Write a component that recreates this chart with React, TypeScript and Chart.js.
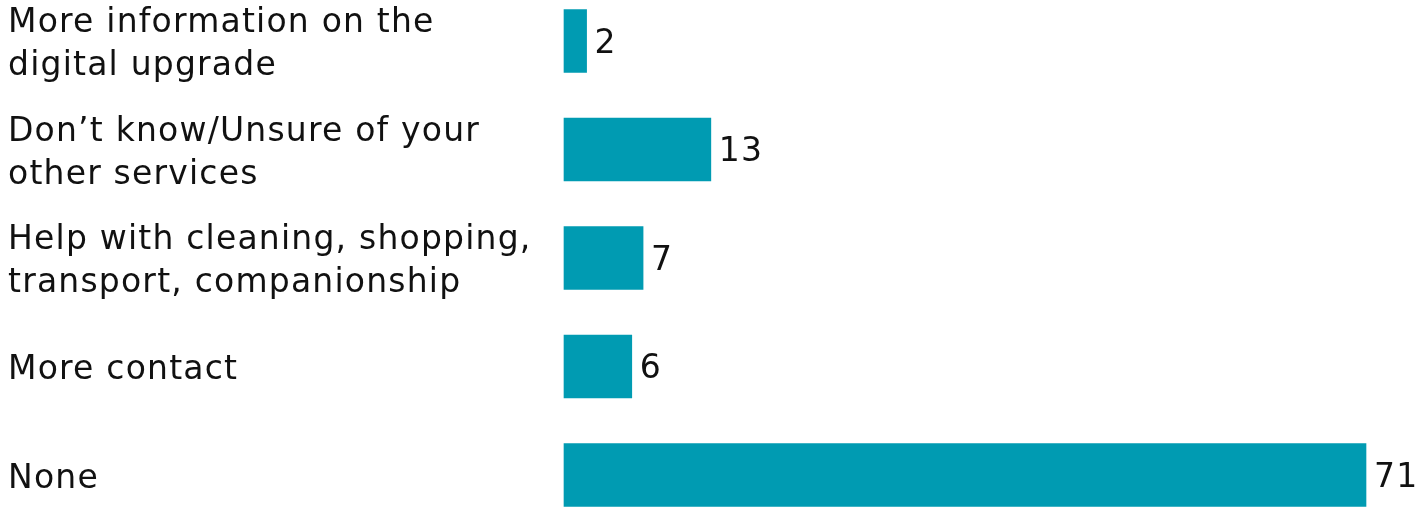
import React, { useEffect, useRef } from "react";
import { Chart, registerables } from "chart.js";

Chart.register(...registerables);

const categories: string[][] = [
  ["More information on the", "digital upgrade"],
  ["Don’t know/Unsure of your", "other services"],
  ["Help with cleaning, shopping,", "transport, companionship"],
  ["More contact"],
  ["None"],
];
const values: number[] = [2, 13, 7, 6, 71];
const barColor = "#009BB2";
const FONT = "'DejaVu Sans', sans-serif";

const spacing = {
  id: "spacing",
  beforeDraw(chart: any) {
    chart.ctx.letterSpacing = "1.2px";
  },
};

const valueLabels = {
  id: "valueLabels",
  afterDatasetsDraw(chart: any) {
    const ctx = chart.ctx;
    const meta = chart.getDatasetMeta(0);
    ctx.save();
    ctx.font = `33px ${FONT}`;
    ctx.fillStyle = "#111";
    ctx.textAlign = "left";
    ctx.textBaseline = "middle";
    meta.data.forEach((bar: any, i: number) => {
      ctx.fillText(String(values[i]), bar.x + 8, bar.y + 3);
    });
    ctx.restore();
  },
};

export default function App() {
  const ref = useRef<HTMLCanvasElement | null>(null);
  useEffect(() => {
    document.body.style.margin = "0";
    const chart = new Chart(ref.current as HTMLCanvasElement, {
      type: "bar",
      data: {
        labels: categories,
        datasets: [
          {
            data: values,
            backgroundColor: barColor,
            barThickness: 63,
            clip: false as any,
          },
        ],
      },
      options: {
        indexAxis: "y",
        animation: false,
        responsive: true,
        maintainAspectRatio: false,
        layout: { padding: { left: 8, right: 61, top: 41, bottom: 32 } },
        plugins: { legend: { display: false }, tooltip: { enabled: false } },
        scales: {
          x: {
            display: false,
            min: 0,
            max: 71,
          },
          y: {
            offset: false,
            grid: { display: false, drawTicks: false },
            border: { display: false },
            afterFit: (scale: any) => {
              scale.width = 556;
              scale.paddingTop = 0;
              scale.paddingBottom = 0;
            },
            ticks: {
              crossAlign: "far",
              padding: 12,
              labelOffset: 4,
              color: "#111",
              font: { family: FONT, size: 33, lineHeight: 1.3 },
            },
          },
        },
      },
      plugins: [spacing, valueLabels],
    });
    return () => chart.destroy();
  }, []);
  return (
    <div style={{ width: "1427px", height: "507px", position: "relative" }}>
      <canvas ref={ref} />
    </div>
  );
}
